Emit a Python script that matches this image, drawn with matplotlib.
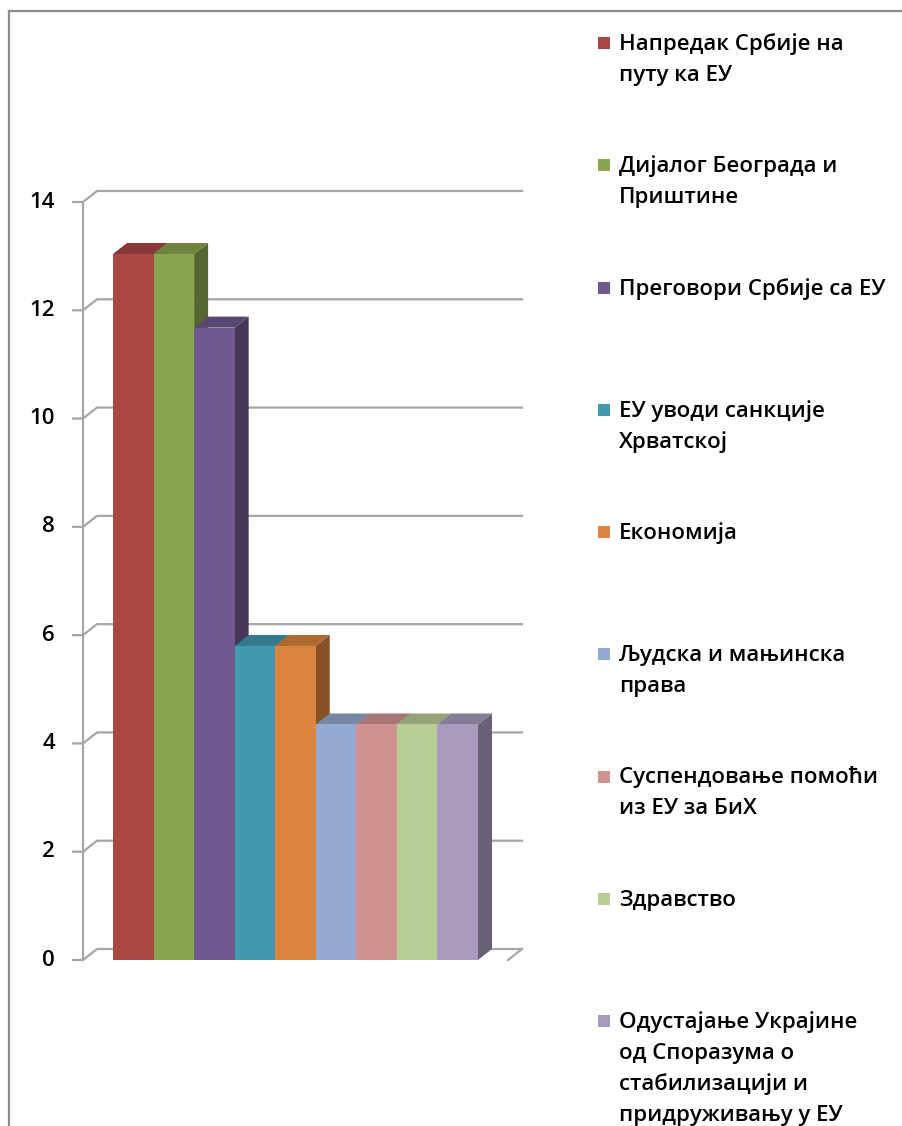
import matplotlib
matplotlib.use("Agg")
import matplotlib.pyplot as plt
from matplotlib.patches import Polygon, Rectangle
from matplotlib.lines import Line2D
import numpy as np

# ====== データ ======
labels = [
    "Напредак Србије на\nпуту ка ЕУ",
    "Дијалог Београда и\nПриштине",
    "Преговори Србије са ЕУ",
    "ЕУ уводи санкције\nХрватској",
    "Економија",
    "Људска и мањинска\nправа",
    "Суспендовање помоћи\nиз ЕУ за БиХ",
    "Здравство",
    "Одустајање Украјине\nод Споразума о\nстабилизацији и\nпридруживању у ЕУ",
]
values = [13.04, 13.04, 11.68, 5.80, 5.80, 4.35, 4.35, 4.35, 4.35]
colors = ["#AA4643", "#89A54E", "#71588F", "#4198AF", "#DB843D",
          "#93A9CF", "#D19392", "#B9CD96", "#A99BBD"]
yticks = [0, 2, 4, 6, 8, 10, 12, 14]

plt.rcParams["font.family"] = ["Open Sans", "DejaVu Sans"]

W, H = 902, 1126
fig = plt.figure(figsize=(W / 100, H / 100), dpi=100)

# ====== 3D 風の軸 ======
x0, x1 = -1.24, 9.24
ax = fig.add_axes([83 / W, (H - 960) / H, 425 / W, 758 / H])
ax.set_xlim(x0, x1)
ax.set_ylim(0, 14)
ax.axis("off")

px_x = 425 / (x1 - x0)   # px per category
px_y = 758 / 14          # px per unit
DX, DY = 14 / px_x, 11 / px_y
grid_c = "#A6A6A6"

# 背面グリッド + 左壁の斜線
for t in yticks:
    ax.plot([x0 - 10 / px_x, x0, x0 + DX, x1 + DX], [t, t, t + DY, t + DY],
            color=grid_c, lw=1.6, clip_on=False, zorder=1)
    ax.annotate(str(t), xy=(x0, t), xytext=(-28, 0), textcoords="offset pixels",
                ha="right", va="center", fontsize=16, fontweight="semibold",
                color="black", annotation_clip=False)
# 床の右端
ax.plot([x1 + DX, x1], [DY, 0], color=grid_c, lw=1.6, clip_on=False, zorder=1)
# 前面の縦軸
ax.plot([x0, x0], [0, 14], color=grid_c, lw=1.6, clip_on=False, zorder=1)


def shade(c, f):
    r, g, b = matplotlib.colors.to_rgb(c)
    return (r * f, g * f, b * f)


# ====== 棒 ======
for i, (v, c) in enumerate(zip(values, colors)):
    l, r = i - 0.5, i + 0.5
    z = 2 + i
    side = Polygon([(r, 0), (r + DX, DY), (r + DX, v + DY), (r, v)],
                   closed=True, fc=shade(c, 0.62), ec="none", zorder=z, clip_on=False)
    top = Polygon([(l, v), (l + DX, v + DY), (r + DX, v + DY), (r, v)],
                  closed=True, fc=shade(c, 0.8), ec="none", zorder=z, clip_on=False)
    front = Rectangle((l, 0), 1, v, fc=c, ec="none", zorder=z, clip_on=False)
    ax.add_patch(side)
    ax.add_patch(top)
    ax.add_patch(front)

# ====== 凡例 ======
lax = fig.add_axes([0, 0, 1, 1])
lax.set_xlim(0, W)
lax.set_ylim(H, 0)
lax.axis("off")
for i, (lab, c) in enumerate(zip(labels, colors)):
    base = 50 + 122.25 * i
    lax.add_patch(Rectangle((598, base - 13), 12, 12, fc=c, ec="none"))
    for j, line in enumerate(lab.split("\n")):
        lax.text(619, base + 31 * j, line, ha="left", va="baseline",
                 fontsize=16, fontweight="semibold", color="black")

# 枠線
lax.add_line(Line2D([9, W], [11, 11], color="#8C8C8C", lw=1.6))
lax.add_line(Line2D([9, 9], [11, H], color="#8C8C8C", lw=1.6))

fig.savefig("out.png", dpi=100)
